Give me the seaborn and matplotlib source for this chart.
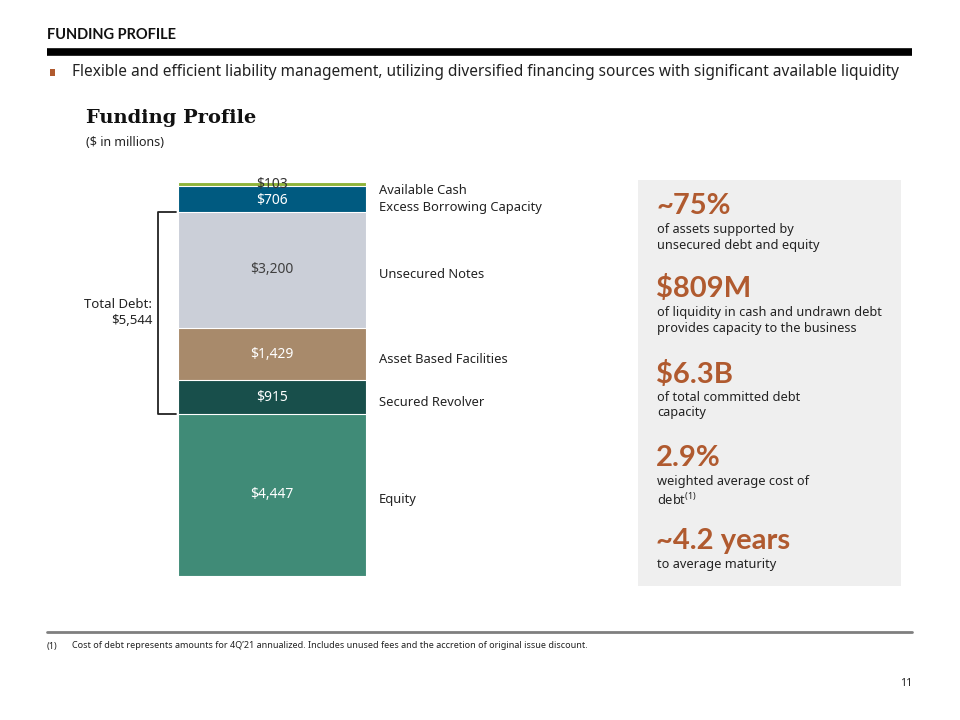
import matplotlib
matplotlib.use("Agg")
import matplotlib.pyplot as plt
import seaborn as sns
import numpy as np
import pandas as pd

# --- Data ---
segments = ["Equity", "Secured Revolver", "Asset Based Facilities",
            "Unsecured Notes", "Excess Borrowing Capacity", "Available Cash"]
values = [4447, 915, 1429, 3200, 706, 103]
value_labels = ["$4,447", "$915", "$1,429", "$3,200", "$706", "$103"]
seg_colors = ["#408b77", "#184f4b", "#a88a6b", "#cbcfd8", "#005a80", "#8fb43a"]
label_colors = ["white", "white", "white", "#404040", "white", "#333333"]
total_debt = "$5,544"

stat_headlines = ["~75%", "$809M", "$6.3B", "2.9%", "~4.2 years"]
stat_texts = [
    "of assets supported by\nunsecured debt and equity",
    "of liquidity in cash and undrawn debt\nprovides capacity to the business",
    "of total committed debt\ncapacity",
    "weighted average cost of\ndebt$^{(1)}$",
    "to average maturity",
]

W, H = 960, 720
ACCENT = "#b05a2f"
TEXT = "#222222"
BOLD_FONT = ["Lato", "Roboto", "DejaVu Sans"]

sns.set_theme(style="white")
plt.rcParams['font.family'] = ['Noto Sans', 'DejaVu Sans']
plt.rcParams['mathtext.fontset'] = 'custom'
plt.rcParams['mathtext.rm'] = 'Noto Sans'


def px(x, y):
    """Pixel coords (top-left origin) -> figure fraction."""
    return x / W, 1 - y / H


fig = plt.figure(figsize=(W / 100, H / 100), dpi=100)

# --- Header ---
fig.text(*px(47, 35), "FUNDING PROFILE", fontsize=10.5, fontweight="bold",
         family=BOLD_FONT, color="#111111", va="center", ha="left")
fig.add_artist(plt.Line2D([47 / W, 912 / W], [1 - 51.5 / H] * 2, color="black",
                          lw=5.5, solid_capstyle="butt"))
fig.add_artist(plt.Rectangle(px(50, 76), 5 / W, 7 / H, color=ACCENT, lw=0))
fig.text(*px(72, 72), "Flexible and efficient liability management, utilizing diversified "
         "financing sources with significant available liquidity",
         fontsize=11.1, color=TEXT, va="center", ha="left")
fig.text(*px(86, 118), "Funding Profile", fontsize=14, fontweight="bold",
         family="DejaVu Serif", color="#111111", va="center", ha="left")
fig.text(*px(86, 142), "($ in millions)", fontsize=9, color=TEXT, va="center", ha="left")

# --- Stacked bar ---
bar_left, bar_right, bar_top, bar_bottom = 178, 366, 182, 576
ax = fig.add_axes([bar_left / W, 1 - bar_bottom / H,
                   (bar_right - bar_left) / W, (bar_bottom - bar_top) / H])
cum = np.cumsum(values)
bottoms = cum - np.array(values)
# draw tallest first so each shorter cumulative bar overlays it
for i in range(len(values) - 1, -1, -1):
    df = pd.DataFrame({"x": ["Funding"], "y": [cum[i]]})
    sns.barplot(data=df, x="x", y="y", color=seg_colors[i], saturation=1,
                width=1, edgecolor="white", linewidth=0.8, ax=ax)
ax.set_xlim(-0.5, 0.5)
ax.set_ylim(0, cum[-1])
ax.axis("off")

# small nudges (data units) so the two thin top labels don't collide
label_nudge = {"Excess Borrowing Capacity": -40, "Available Cash": -20}
for i, (b, v) in enumerate(zip(bottoms, values)):
    yv = b + v / 2 + label_nudge.get(segments[i], 0)
    ax.text(0, yv, value_labels[i], ha="center", va="center",
            fontsize=10, color=label_colors[i])

# right-hand segment labels
to_px = lambda yv: bar_bottom - (yv / cum[-1]) * (bar_bottom - bar_top)
label_y = {s: to_px(b + v / 2) + 5 for s, b, v in zip(segments, bottoms, values)}
label_y["Available Cash"] = 190
label_y["Excess Borrowing Capacity"] = 208
for s in segments:
    fig.text(*px(379, label_y[s]), s, fontsize=9.3, color=TEXT, va="center", ha="left")

# total debt bracket (secured revolver .. unsecured notes)
y_lo = to_px(bottoms[1])
y_hi = to_px(cum[3])
bx = 158
fig.add_artist(plt.Line2D([176 / W, bx / W, bx / W, 176 / W],
                          [1 - y_hi / H, 1 - y_hi / H, 1 - y_lo / H, 1 - y_lo / H],
                          color="#222222", lw=1.3))
fig.text(*px(152, (y_hi + y_lo) / 2), "Total Debt:\n" + total_debt, fontsize=9.5,
         color=TEXT, va="center", ha="right", linespacing=1.3)

# --- Right summary panel ---
fig.add_artist(plt.Rectangle(px(638, 586), (901 - 638) / W, (586 - 180) / H,
                             color="#efefef", lw=0))
head_y = [206, 289, 374, 458, 541]
for hy, head, body in zip(head_y, stat_headlines, stat_texts):
    fig.text(*px(656, hy), head, fontsize=21, fontweight="bold", family=BOLD_FONT,
             color=ACCENT, va="center", ha="left")
    fig.text(*px(657, hy + 17), body, fontsize=9.2, color=TEXT, va="top",
             ha="left", linespacing=1.25)

# --- Footnote ---
fig.add_artist(plt.Line2D([47 / W, 912 / W], [1 - 632 / H] * 2, color="#7f7f7f", lw=2))
fig.text(*px(47, 646), "(1)", fontsize=6.5, color=TEXT, va="center", ha="left")
fig.text(*px(72, 646), "Cost of debt represents amounts for 4Q\u201921 annualized. Includes "
         "unused fees and the accretion of original issue discount.",
         fontsize=6.5, color=TEXT, va="center", ha="left")
fig.text(*px(912, 683), "11", fontsize=7.5, color=TEXT, va="center", ha="right")

fig.savefig("out.png", dpi=100)
